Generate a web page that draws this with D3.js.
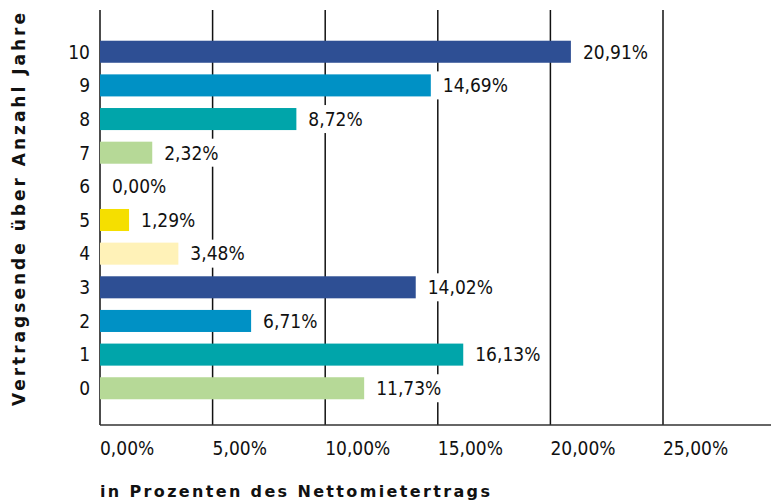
<!DOCTYPE html>
<html><head><meta charset="utf-8">
<script src="https://cdn.jsdelivr.net/npm/d3@7"></script>
<style>body{margin:0;background:#fff}svg{display:block}</style>
</head><body>
<svg id="c" width="771" height="500"></svg>
<script>
const categories = ["10","9","8","7","6","5","4","3","2","1","0"];
const values = [20.91,14.69,8.72,2.32,0.00,1.29,3.48,14.02,6.71,16.13,11.73];
const colors = ["#2e4f94","#0091c5","#00a5aa","#b6d997","#b6d997","#f5df00","#fff2b8","#2e4f94","#0091c5","#00a5aa","#b6d997"];
const xTicks = [0,5,10,15,20,25];
const fmt = v => v.toFixed(2).replace(".", ",") + "%";

const svg = d3.select("#c");
const font = "'DejaVu Sans Condensed','DejaVu Sans',sans-serif";
const x = d3.scaleLinear().domain([0,25]).range([100,663]);
const y = d3.scaleBand().domain(categories).range([35,405]).paddingInner(0.345).paddingOuter(0.17);
const gridTop = 10, base = 425;

// gridlines
svg.append("g").selectAll("line").data(xTicks).join("line")
  .attr("x1", d=>x(d)).attr("x2", d=>x(d)).attr("y1", gridTop).attr("y2", base)
  .attr("stroke", "#111").attr("stroke-width", 1.5);
// baseline
svg.append("line").attr("x1",100).attr("x2",771).attr("y1",base).attr("y2",base)
  .attr("stroke","#333").attr("stroke-width",1.5);

// bars
svg.append("g").selectAll("rect").data(values).join("rect")
  .attr("x", x(0)).attr("y", (d,i)=>y(categories[i]))
  .attr("width", d=>x(d)-x(0)).attr("height", y.bandwidth())
  .attr("fill", (d,i)=>colors[i]);

// value labels with white background
const lg = svg.append("g").selectAll("g").data(values).join("g");
lg.each(function(d,i){
  const g = d3.select(this);
  const cx = x(d) + 12, cy = y(categories[i]) + y.bandwidth()/2;
  const t = g.append("text").attr("x", cx).attr("y", cy).attr("dy","0.36em")
    .attr("font-family", font).attr("font-size", 19).attr("fill","#111").text(fmt(d));
  const bb = t.node().getBBox();
  g.insert("rect","text").attr("x", bb.x-6).attr("y", cy-14).attr("width", bb.width+10).attr("height", 28).attr("fill","#fff");
});

// y category labels
svg.append("g").selectAll("text").data(categories).join("text")
  .attr("x", 90).attr("y", d=>y(d)+y.bandwidth()/2).attr("dy","0.36em")
  .attr("text-anchor","end").attr("font-family", font).attr("font-size", 19).attr("fill","#111")
  .text(d=>d);

// x tick labels
svg.append("g").selectAll("text").data(xTicks).join("text")
  .attr("x", d=>x(d)).attr("y", 455).attr("font-family", font).attr("font-size", 19).attr("fill","#111")
  .text(d=>fmt(d));

// axis titles
svg.append("text").attr("x", 100).attr("y", 497).attr("font-family", "'DejaVu Sans',sans-serif")
  .attr("font-weight","bold").attr("font-size", 16).attr("letter-spacing", 2.35).attr("fill","#111")
  .text("in Prozenten des Nettomietertrags");
svg.append("text").attr("transform","translate(25,208) rotate(-90)").attr("text-anchor","middle")
  .attr("font-family", "'DejaVu Sans',sans-serif").attr("font-weight","bold").attr("font-size", 17)
  .attr("letter-spacing", 3).attr("fill","#111").text("Vertragsende über Anzahl Jahre");
</script>
</body></html>
